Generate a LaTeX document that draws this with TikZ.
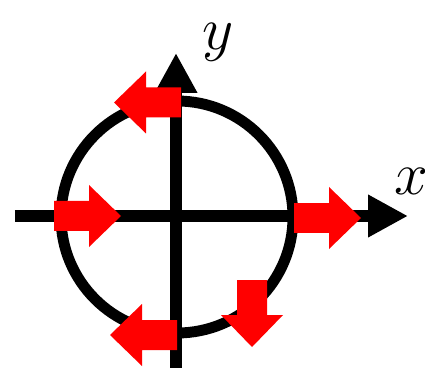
\documentclass[tikz,border=0pt]{standalone}
\usepackage{amsmath}
\usepackage{tikz}
\usetikzlibrary{arrows.meta}

\tikzset{
  axis/.style={line width=3.6pt, -{Triangle[length=4mm, width=4mm]}},
  blockarrow/.pic={
    \fill[red] (0,-0.15) -- (0.35,-0.15) -- (0.35,-0.31) -- (0.67,0)
      -- (0.35,0.31) -- (0.35,0.15) -- (0,0.15) -- cycle;
  }
}

\begin{document}
\begin{tikzpicture}[every node/.style={font=\LARGE}]
  \useasboundingbox (-1.76,-1.51) rectangle (2.49,2.16);
  \coordinate (xstart) at (-1.61,0);
  \coordinate (xend) at (2.32,0);
  \coordinate (ystart) at (0,-1.60);
  \coordinate (yend) at (0,1.63);
  \coordinate (centre) at (0.01,-0.01);
  \draw[line width=3.1pt] (centre) circle (1.16);
  \draw[axis] (xstart) -- (xend);
  \draw[axis] (ystart) -- (yend);
  \node (xlabel) at (2.35,0.35) {$x$};
  \node (ylabel) at (0.425,1.735) {$y$};
  % velocity arrows on the ring
  \pic[rotate=180] at (0.05,1.135) {blockarrow};
  \pic at (-1.22,0) {blockarrow};
  \pic at (1.18,-0.02) {blockarrow};
  \pic[rotate=180] at (0.01,-1.19) {blockarrow};
  \pic[rotate=-90] at (0.76,-0.64) {blockarrow};
\end{tikzpicture}
\end{document}
